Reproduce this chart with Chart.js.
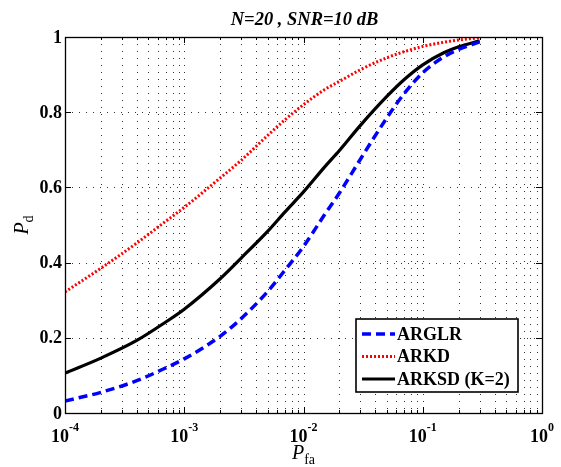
<!DOCTYPE html>
<html>
<head>
<meta charset="utf-8">
<script src="https://cdn.jsdelivr.net/npm/chart.js@4.4.1/dist/chart.umd.min.js"></script>
<style>
  html, body { margin: 0; padding: 0; background: #fff; }
  #wrap { width: 561px; height: 467px; }
</style>
</head>
<body>
<div id="wrap"><canvas id="myChart" width="561" height="467"></canvas></div>
<script>
// false alarm probability (x) and detection probability of each detector
const pfa = [1e-4, 2e-4, 4e-4, 7e-4, 1e-3, 2e-3, 3e-3, 5e-3, 7e-3, 1e-2,
  1.5e-2, 2e-2, 3e-2, 5e-2, 7e-2, 0.1, 0.15, 0.2, 0.3];
const arglr = [0.032, 0.055, 0.086, 0.12, 0.144, 0.204, 0.251, 0.323, 0.38, 0.443,
  0.527, 0.585, 0.675, 0.785, 0.85, 0.905, 0.947, 0.967, 0.987];
const arkd = [0.322, 0.385, 0.452, 0.51, 0.547, 0.625, 0.672, 0.738, 0.78, 0.82,
  0.86, 0.882, 0.913, 0.945, 0.961, 0.975, 0.986, 0.992, 0.998];
const arksd = [0.106, 0.146, 0.193, 0.242, 0.276, 0.357, 0.412, 0.483, 0.535, 0.588,
  0.654, 0.698, 0.765, 0.842, 0.887, 0.926, 0.958, 0.974, 0.99];

const seriesNames = ["ARGLR", "ARKD", "ARKSD (K=2)"];
const titleText = "N=20 , SNR=10 dB";

// axis ticks
const xTicks = [1e-4, 1e-3, 1e-2, 1e-1, 1];
const xTickExps = ["-4", "-3", "-2", "-1", "0"];
const minorSig = [2, 3, 4, 5, 6, 7, 8, 9];
const yTicks = [0, 0.2, 0.4, 0.6, 0.8, 1];
const yTickLabels = ["0", "0.2", "0.4", "0.6", "0.8", "1"];

const xMinor = [];
xTicks.slice(0, -1).forEach((d) => minorSig.forEach((m) => xMinor.push(d * m)));

const toPts = (ys) => pfa.map((x, i) => ({ x: x, y: ys[i] }));

const SERIF = '"Liberation Serif", "Times New Roman", serif';

const matlabAxes = {
  id: "matlabAxes",
  beforeDatasetsDraw(chart) {
    const { ctx, chartArea: a, scales } = chart;
    ctx.save();
    ctx.strokeStyle = "#333";
    ctx.lineWidth = 1;
    ctx.setLineDash([1, 6]);
    [...xTicks, ...xMinor].forEach((v) => {
      const px = Math.round(scales.x.getPixelForValue(v)) + 0.5;
      if (px <= a.left + 1 || px >= a.right - 1) return;
      ctx.beginPath();
      ctx.moveTo(px, a.top);
      ctx.lineTo(px, a.bottom);
      ctx.stroke();
    });
    yTicks.forEach((v) => {
      const py = Math.round(scales.y.getPixelForValue(v)) + 0.5;
      if (py <= a.top + 1 || py >= a.bottom - 1) return;
      ctx.beginPath();
      ctx.moveTo(a.left, py);
      ctx.lineTo(a.right, py);
      ctx.stroke();
    });
    ctx.restore();
  },
  afterDatasetsDraw(chart) {
    const { ctx, chartArea: a, scales } = chart;
    ctx.save();
    ctx.setLineDash([]);
    ctx.strokeStyle = "#000";
    ctx.lineWidth = 1.3;
    ctx.strokeRect(a.left + 0.5, a.top + 0.5, a.right - a.left, a.bottom - a.top);

    // inward ticks on all four sides
    ctx.lineWidth = 1;
    const tick = (x1, y1, x2, y2) => {
      ctx.beginPath();
      ctx.moveTo(x1, y1);
      ctx.lineTo(x2, y2);
      ctx.stroke();
    };
    xTicks.forEach((v) => {
      const px = Math.round(scales.x.getPixelForValue(v)) + 0.5;
      tick(px, a.bottom, px, a.bottom - 6);
      tick(px, a.top, px, a.top + 6);
    });
    xMinor.forEach((v) => {
      const px = Math.round(scales.x.getPixelForValue(v)) + 0.5;
      tick(px, a.bottom, px, a.bottom - 3);
      tick(px, a.top, px, a.top + 3);
    });
    yTicks.forEach((v) => {
      const py = Math.round(scales.y.getPixelForValue(v)) + 0.5;
      tick(a.left, py, a.left + 6, py);
      tick(a.right, py, a.right - 6, py);
    });

    // tick labels
    ctx.fillStyle = "#000";
    ctx.font = "bold 18px " + SERIF;
    ctx.textAlign = "right";
    ctx.textBaseline = "middle";
    yTicks.forEach((v, i) => {
      ctx.fillText(yTickLabels[i], a.left - 3, scales.y.getPixelForValue(v) + 1);
    });
    ctx.textAlign = "left";
    ctx.textBaseline = "alphabetic";
    xTicks.forEach((v, i) => {
      const px = scales.x.getPixelForValue(v);
      ctx.font = "bold 18px " + SERIF;
      const wb = ctx.measureText("10").width;
      ctx.font = "bold 12px " + SERIF;
      const we = ctx.measureText(xTickExps[i]).width;
      const x0 = px - (wb + we) / 2;
      ctx.font = "bold 18px " + SERIF;
      ctx.fillText("10", x0, 442);
      ctx.font = "bold 12px " + SERIF;
      ctx.fillText(xTickExps[i], x0 + wb, 431);
    });

    // title
    const cx = (a.left + a.right) / 2;
    ctx.font = "italic bold 18.5px " + SERIF;
    ctx.textAlign = "center";
    ctx.fillText(titleText, cx + 1, 25);

    // x axis label P_fa
    ctx.textAlign = "left";
    ctx.font = "italic 20px " + SERIF;
    const wP = ctx.measureText("P").width;
    ctx.font = "14px " + SERIF;
    const wFa = ctx.measureText("fa").width;
    const xl = cx - (wP + wFa) / 2;
    ctx.font = "italic 20px " + SERIF;
    ctx.fillText("P", xl, 459);
    ctx.font = "14px " + SERIF;
    ctx.fillText("fa", xl + wP, 464);

    // y axis label P_d
    ctx.save();
    ctx.translate(28, (a.top + a.bottom) / 2);
    ctx.rotate(-Math.PI / 2);
    ctx.font = "italic 20px " + SERIF;
    const wP2 = ctx.measureText("P").width;
    ctx.font = "14px " + SERIF;
    const wD = ctx.measureText("d").width;
    const yl = -(wP2 + wD) / 2;
    ctx.font = "italic 20px " + SERIF;
    ctx.fillText("P", yl, 0);
    ctx.font = "14px " + SERIF;
    ctx.fillText("d", yl + wP2, 5);
    ctx.restore();

    // legend box (inside, lower right)
    const lx = 356, ly = 319, lw = 162, lh = 73;
    ctx.fillStyle = "#fff";
    ctx.fillRect(lx, ly, lw, lh);
    ctx.strokeStyle = "#000";
    ctx.lineWidth = 1.6;
    ctx.strokeRect(lx, ly, lw, lh);
    chart.data.datasets.forEach((ds, i) => {
      const ry = ly + 15 + i * 22.5;
      ctx.strokeStyle = ds.borderColor;
      ctx.lineWidth = ds.borderWidth;
      ctx.setLineDash(ds.borderDash || []);
      tick(362, ry, 395, ry);
      ctx.setLineDash([]);
      ctx.fillStyle = "#000";
      ctx.font = "bold 18px " + SERIF;
      ctx.textAlign = "left";
      ctx.textBaseline = "middle";
      ctx.fillText(ds.label, 397, ry + 1);
    });
    ctx.restore();
  },
};

new Chart(document.getElementById("myChart"), {
  type: "line",
  data: {
    datasets: [
      {
        label: seriesNames[0],
        data: toPts(arglr),
        borderColor: "#0000ff",
        borderWidth: 3.5,
        borderDash: [9, 5],
      },
      {
        label: seriesNames[1],
        data: toPts(arkd),
        borderColor: "#ff0000",
        borderWidth: 3,
        borderDash: [2, 2],
      },
      {
        label: seriesNames[2],
        data: toPts(arksd),
        borderColor: "#000000",
        borderWidth: 3.2,
      },
    ],
  },
  options: {
    responsive: false,
    animation: false,
    layout: { padding: { left: 65, right: 19, top: 37, bottom: 54 } },
    elements: {
      point: { radius: 0 },
      line: { cubicInterpolationMode: "monotone", fill: false },
    },
    scales: {
      x: { type: "logarithmic", min: 1e-4, max: 1, display: false },
      y: { type: "linear", min: 0, max: 1, display: false },
    },
    plugins: {
      legend: { display: false },
      tooltip: { enabled: false },
    },
  },
  plugins: [matlabAxes],
});
</script>
</body>
</html>
